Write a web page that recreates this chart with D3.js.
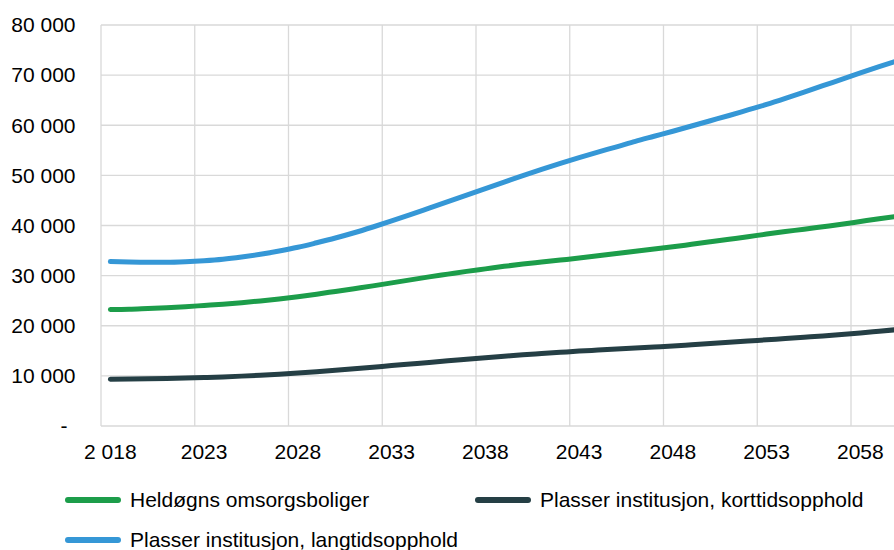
<!DOCTYPE html>
<html>
<head>
<meta charset="utf-8">
<script src="https://cdn.jsdelivr.net/npm/d3@7"></script>
<style>
  html, body { margin: 0; padding: 0; background: #fff; overflow: hidden; }
  svg { display: block; font-family: "Liberation Sans", Arial, sans-serif; }
</style>
</head>
<body>
<svg id="chart" width="894" height="550"></svg>
<script>
const years = d3.range(2018, 2061);
const tickYears = [2018, 2023, 2028, 2033, 2038, 2043, 2048, 2053, 2058];
const tickLabels = ["2 018", "2023", "2028", "2033", "2038", "2043", "2048", "2053", "2058"];
const yTicks = [0, 10000, 20000, 30000, 40000, 50000, 60000, 70000, 80000];
const yTickLabels = ["-", "10 000", "20 000", "30 000", "40 000", "50 000", "60 000", "70 000", "80 000"];

const seriesNames = ["Heldøgns omsorgsboliger", "Plasser institusjon, korttidsopphold", "Plasser institusjon, langtidsopphold"];
const seriesColors = ["#1c9d4a", "#253f45", "#3597d6"];

const heldogns = [23250, 23300, 23450, 23600, 23800, 24050, 24300, 24600, 24950, 25350,
  25800, 26300, 26850, 27400, 27950, 28550, 29150, 29750, 30300, 30850,
  31350, 31850, 32300, 32700, 33100, 33500, 33950, 34400, 34850, 35300,
  35750, 36250, 36750, 37250, 37750, 38300, 38800, 39250, 39750, 40250,
  40800, 41350, 41850];
const korttid = [9350, 9380, 9420, 9480, 9570, 9680, 9800, 9950, 10130, 10330,
  10560, 10820, 11100, 11400, 11720, 12050, 12370, 12690, 13000, 13300,
  13600, 13900, 14200, 14450, 14700, 14950, 15150, 15350, 15550, 15750,
  15950, 16200, 16450, 16700, 16950, 17200, 17450, 17700, 17950, 18250,
  18550, 18900, 19250];
const langtid = [32800, 32700, 32650, 32650, 32750, 32950, 33250, 33700, 34250, 34900,
  35650, 36550, 37500, 38550, 39700, 40900, 42150, 43450, 44750, 46050,
  47350, 48650, 49950, 51200, 52400, 53550, 54650, 55700, 56800, 57800,
  58800, 59850, 60900, 61950, 63050, 64150, 65350, 66600, 67900, 69150,
  70450, 71700, 72900];
const seriesValues = [heldogns, korttid, langtid];

(function () {
const svg = d3.select("#chart");
const pLeft = 101, pTop = 25, pBottom = 426;
const bandW = 18.75;
const x = d3.scaleBand().domain(years).range([pLeft, pLeft + years.length * bandW]).padding(0);
const y = d3.scaleLinear().domain([0, 80000]).range([pBottom, pTop]);
const pRight = pLeft + years.length * bandW;

const grid = svg.append("g");
grid.selectAll("line.h").data(yTicks).enter().append("line")
  .attr("x1", pLeft).attr("x2", pRight)
  .attr("y1", d => y(d)).attr("y2", d => y(d))
  .attr("stroke", "#d9d9d9").attr("stroke-width", 1.3);
const vLines = tickYears.map(t => x(t)).concat([pRight]);
grid.selectAll("line.v").data(vLines).enter().append("line")
  .attr("x1", d => d).attr("x2", d => d)
  .attr("y1", pTop).attr("y2", pBottom)
  .attr("stroke", "#d9d9d9").attr("stroke-width", 1.3);

svg.append("g").selectAll("text").data(yTicks).enter().append("text")
  .attr("x", (d, i) => i === 0 ? 67.5 : 75.5)
  .attr("y", d => y(d))
  .attr("dy", "0.35em")
  .attr("text-anchor", "end")
  .attr("font-size", 21)
  .attr("fill", "#000")
  .text((d, i) => yTickLabels[i]);

svg.append("g").selectAll("text").data(tickYears).enter().append("text")
  .attr("x", d => x(d) + x.bandwidth() / 2)
  .attr("y", 459)
  .attr("text-anchor", "middle")
  .attr("font-size", 21)
  .attr("fill", "#000")
  .text((d, i) => tickLabels[i]);

const line = d3.line()
  .x((d, i) => x(years[i]) + x.bandwidth() / 2)
  .y(d => y(d))
  .curve(d3.curveMonotoneX);
[2, 0, 1].forEach(k => {
  svg.append("path")
    .attr("d", line(seriesValues[k]))
    .attr("fill", "none")
    .attr("stroke", seriesColors[k])
    .attr("stroke-width", 5)
    .attr("stroke-linecap", "round")
    .attr("stroke-linejoin", "round");
});

const legendPos = [[65, 500], [475, 500], [65, 540]];
const lg = svg.append("g");
seriesNames.forEach((name, k) => {
  const [lx, ly] = legendPos[k];
  lg.append("line")
    .attr("x1", lx + 3).attr("x2", lx + 53)
    .attr("y1", ly).attr("y2", ly)
    .attr("stroke", seriesColors[k]).attr("stroke-width", 6)
    .attr("stroke-linecap", "round");
  lg.append("text")
    .attr("x", lx + 65).attr("y", ly)
    .attr("dy", "0.35em")
    .attr("font-size", 21)
    .attr("fill", "#000")
    .text(name);
});
})();
</script>
</body>
</html>
